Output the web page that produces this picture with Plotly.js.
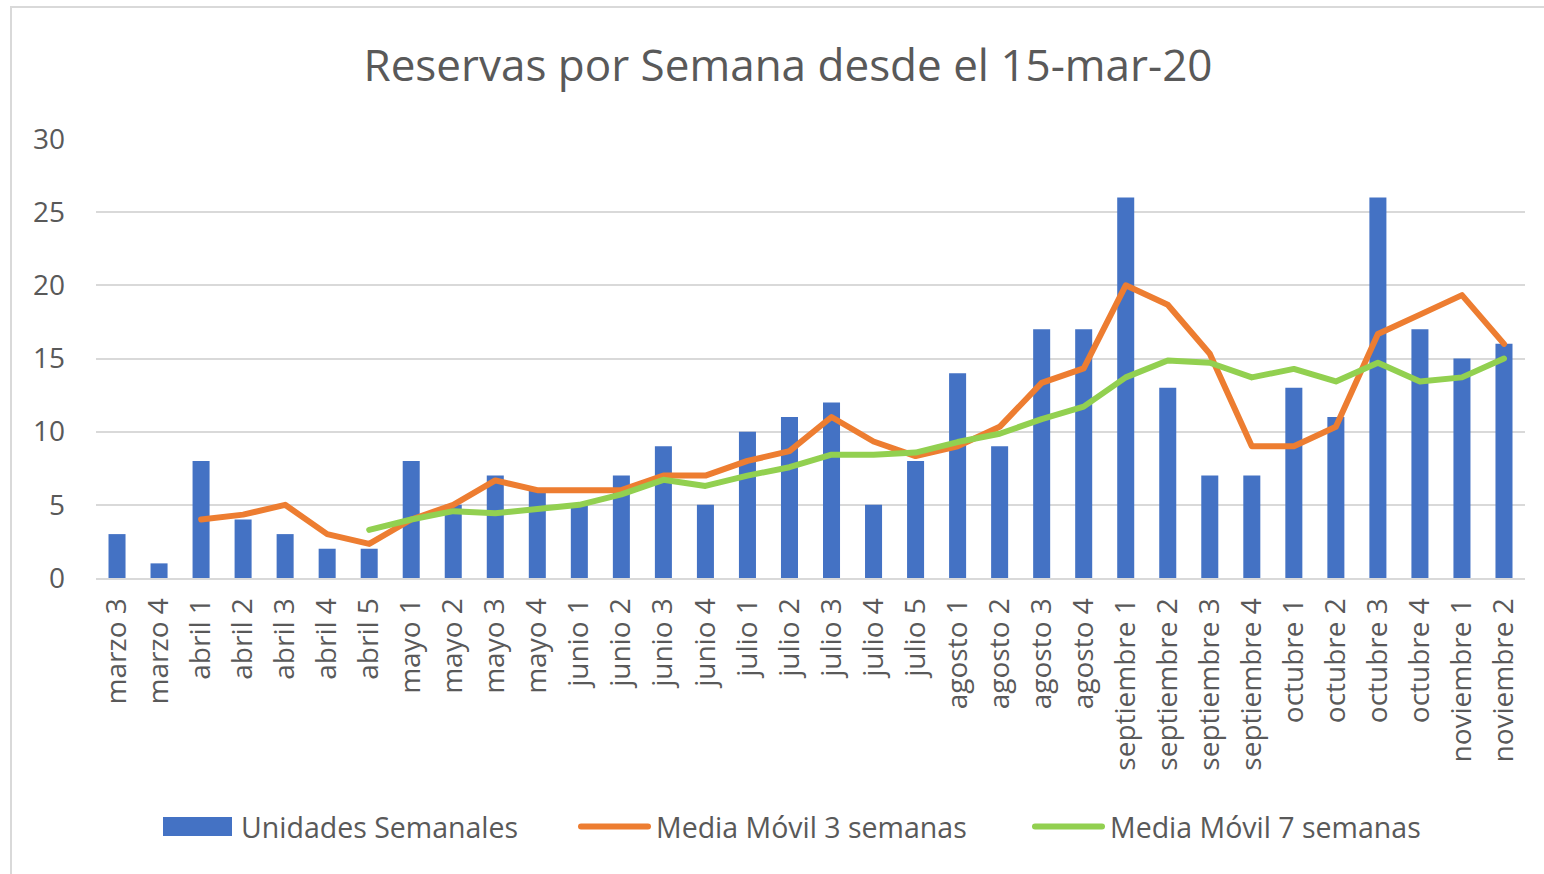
<!DOCTYPE html>
<html>
<head>
<meta charset="utf-8">
<script src="https://cdn.plot.ly/plotly-3.0.1.min.js"></script>
<style>
  html, body { margin: 0; padding: 0; background: #ffffff; }
  #frame { position: absolute; left: 10px; top: 6px; width: 3000px; height: 3000px;
           border: 2px solid #d9d9d9; pointer-events: none; box-sizing: border-box; }
  #chart { position: absolute; left: 0; top: 0; width: 1544px; height: 874px; }
  .js-line { stroke-linecap: round; stroke-linejoin: round; }
</style>
</head>
<body>
<div id="chart"></div>
<div id="frame"></div>
<script>
const categories = ["marzo 3","marzo 4","abril 1","abril 2","abril 3","abril 4","abril 5",
  "mayo 1","mayo 2","mayo 3","mayo 4","junio 1","junio 2","junio 3","junio 4",
  "julio 1","julio 2","julio 3","julio 4","julio 5","agosto 1","agosto 2","agosto 3","agosto 4",
  "septiembre 1","septiembre 2","septiembre 3","septiembre 4","octubre 1","octubre 2","octubre 3",
  "octubre 4","noviembre 1","noviembre 2"];
const unidadesSemanales = [3,1,8,4,3,2,2,8,5,7,6,5,7,9,5,10,11,12,5,8,14,9,17,17,26,13,7,7,13,11,26,17,15,16];
const mediaMovil3 = [null,null,4,4.33,5,3,2.33,4,5,6.67,6,6,6,7,7,8,8.67,11,9.33,8.33,9,10.33,13.33,14.33,20,18.67,15.33,9,9,10.33,16.67,18,19.33,16];
const mediaMovil7 = [null,null,null,null,null,null,3.29,4,4.57,4.43,4.71,5,5.71,6.71,6.29,7,7.57,8.43,8.43,8.57,9.29,9.86,10.86,11.71,13.71,14.86,14.71,13.71,14.29,13.43,14.71,13.43,13.71,15];
const yTicks = [0,5,10,15,20,25,30];
const seriesNames = ["Unidades Semanales","Media Móvil 3 semanas","Media Móvil 7 semanas"];

const FONT = "Open Sans, Noto Sans, sans-serif";
const TXT = "#595959";

const traces = [
  { type: "bar", name: seriesNames[0], x: categories, y: unidadesSemanales,
    marker: { color: "#4472C4", line: { width: 0 } }, legendwidth: 327 },
  { type: "scatter", mode: "lines", name: seriesNames[1], x: categories, y: mediaMovil3,
    line: { color: "#ED7D31", width: 6 }, connectgaps: false, legendwidth: 366 },
  { type: "scatter", mode: "lines", name: seriesNames[2], x: categories, y: mediaMovil7,
    line: { color: "#92D050", width: 6 }, connectgaps: false, legendwidth: 330 }
];

const layout = {
  width: 1544, height: 874,
  margin: { l: 96, r: 19, t: 139, b: 296 },
  paper_bgcolor: "rgba(0,0,0,0)", plot_bgcolor: "rgba(0,0,0,0)",
  font: { family: FONT, color: TXT, size: 28 },
  title: { text: "Reservas por Semana desde el 15-mar-20",
           font: { family: FONT, size: 44, color: TXT },
           xref: "container", x: 788/1544, xanchor: "center",
           yref: "container", y: 1 - 66/874, yanchor: "middle" },
  bargap: 0.595,
  xaxis: { type: "category", tickangle: -90, showgrid: false, ticks: "",
           showline: true, linecolor: "#d9d9d9", linewidth: 2,
           tickfont: { family: FONT, size: 28, color: TXT }, ticklabelstandoff: 7 },
  yaxis: { range: [0, 30], tickvals: yTicks, showgrid: true, gridcolor: "#d9d9d9", gridwidth: 2,
           zeroline: false, showline: false, ticks: "",
           tickfont: { family: FONT, size: 28, color: TXT }, ticklabelstandoff: 30 },
  showlegend: true,
  legend: { orientation: "h", xref: "container", x: 158/1544, xanchor: "left",
            yref: "container", y: 1 - 827/874, yanchor: "middle",
            itemwidth: 73, font: { family: FONT, size: 28.5, color: TXT },
            bgcolor: "rgba(0,0,0,0)", borderwidth: 0, traceorder: "normal" },
  hovermode: false
};

function fixLegend() {
  const items = document.querySelectorAll("#chart .legend .traces");
  items.forEach((g, i) => {
    const t = g.querySelector("text.legendtext");
    const tx = t ? parseFloat(t.getAttribute("x")) : 83;
    if (i === 0) {
      g.querySelectorAll(".legendpoints path").forEach(p => {
        p.setAttribute("transform", "");
        p.setAttribute("d", "M5,-9.5H" + (tx - 9) + "V9.5H5Z");
      });
    } else {
      g.querySelectorAll(".legendlines path").forEach(p => {
        p.setAttribute("d", "M8,0H" + (tx - 8));
        p.style.strokeLinecap = "round";
      });
    }
  });
}

Plotly.newPlot("chart", traces, layout, { displayModeBar: false, staticPlot: true }).then(fixLegend);
</script>
</body>
</html>
